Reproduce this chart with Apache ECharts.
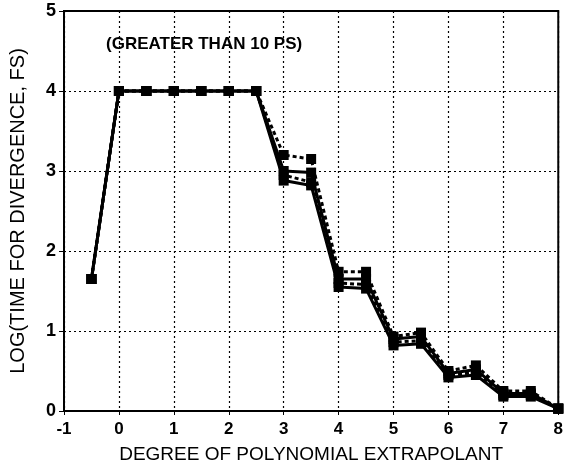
<!DOCTYPE html>
<html>
<head>
<meta charset="utf-8">
<script src="https://cdn.jsdelivr.net/npm/echarts@6/dist/echarts.min.js"></script>
<style>
  html, body { margin: 0; padding: 0; background: #fff; }
  #chart { width: 566px; height: 469px; }
</style>
</head>
<body>
<div id="chart"></div>
<script>
// Polynomial extrapolant degree (x) for every series
const degrees = [-0.5, 0, 0.5, 1, 1.5, 2, 2.5, 3, 3.5, 4, 4.5, 5, 5.5, 6, 6.5, 7, 7.5, 8];

// log10 of time for divergence (fs), four runs
const runA = [1.65, 4, 4, 4, 4, 4, 4, 3.2, 3.15, 1.74, 1.74, 0.93, 0.98, 0.5, 0.57, 0.25, 0.25, 0.03];
const runB = [1.65, 4, 4, 4, 4, 4, 4, 3.0, 2.98, 1.65, 1.65, 0.9, 0.93, 0.47, 0.52, 0.22, 0.22, 0.03];
const runC = [1.65, 4, 4, 4, 4, 4, 4, 2.95, 2.86, 1.6, 1.58, 0.86, 0.88, 0.45, 0.48, 0.2, 0.2, 0.03];
const runD = [1.65, 4, 4, 4, 4, 4, 4, 2.88, 2.82, 1.55, 1.53, 0.82, 0.84, 0.42, 0.45, 0.18, 0.18, 0.03];

const xTicks = [-1, 0, 1, 2, 3, 4, 5, 6, 7, 8];
const yTicks = [0, 1, 2, 3, 4, 5];

const note = '(GREATER THAN 10 PS)';
const xName = 'DEGREE OF POLYNOMIAL EXTRAPOLANT';
const yName = 'LOG(TIME FOR DIVERGENCE, FS)';

const font = '"Liberation Sans", Arial, sans-serif';

function pairs(ys) {
  return degrees.map((x, i) => [x, ys[i]]);
}

function lineSeries(ys, dashed) {
  return {
    type: 'line',
    data: pairs(ys),
    symbol: 'rect',
    symbolSize: 10,
    itemStyle: { color: '#000' },
    lineStyle: { color: '#000', width: 3, type: dashed ? [4, 3] : 'solid' },
    z: dashed ? 3 : 4
  };
}

const gridLine = { show: true, lineStyle: { color: '#000', type: [2, 3], width: 1.2 } };

const chart = echarts.init(document.getElementById('chart'), null, { renderer: 'canvas' });
chart.setOption({
  animation: false,
  backgroundColor: '#fff',
  grid: {
    left: 62, right: 3, top: 11, bottom: 56,
    show: true, borderColor: '#000', borderWidth: 2, backgroundColor: 'transparent'
  },
  xAxis: {
    type: 'value',
    min: xTicks[0], max: xTicks[xTicks.length - 1], interval: 1,
    name: xName, nameLocation: 'middle', nameGap: 34,
    nameTextStyle: { fontFamily: font, fontSize: 19, color: '#000' },
    axisLine: { onZero: false, lineStyle: { color: '#000', width: 2 } },
    axisTick: { show: true, length: 4, lineStyle: { color: '#000' } },
    axisLabel: { fontFamily: font, fontSize: 17, fontWeight: 'bold', color: '#000', margin: 10 },
    splitLine: gridLine
  },
  yAxis: {
    type: 'value',
    min: yTicks[0], max: yTicks[yTicks.length - 1], interval: 1,
    name: yName, nameLocation: 'middle', nameGap: 36, nameRotate: 90,
    nameTextStyle: { fontFamily: font, fontSize: 20, color: '#000' },
    axisLine: { show: true, onZero: false, lineStyle: { color: '#000', width: 2 } },
    axisTick: { show: true, length: 5, inside: false, lineStyle: { color: '#000' } },
    axisLabel: { fontFamily: font, fontSize: 18, fontWeight: 'bold', color: '#000', margin: 8 },
    splitLine: gridLine
  },
  graphic: [{
    type: 'text',
    left: 106, top: 36,
    style: { text: note, font: 'bold 17px ' + font, fill: '#000' }
  }],
  series: [
    lineSeries(runA, true),
    lineSeries(runB, false),
    lineSeries(runC, true),
    lineSeries(runD, false)
  ]
});
</script>
</body>
</html>
